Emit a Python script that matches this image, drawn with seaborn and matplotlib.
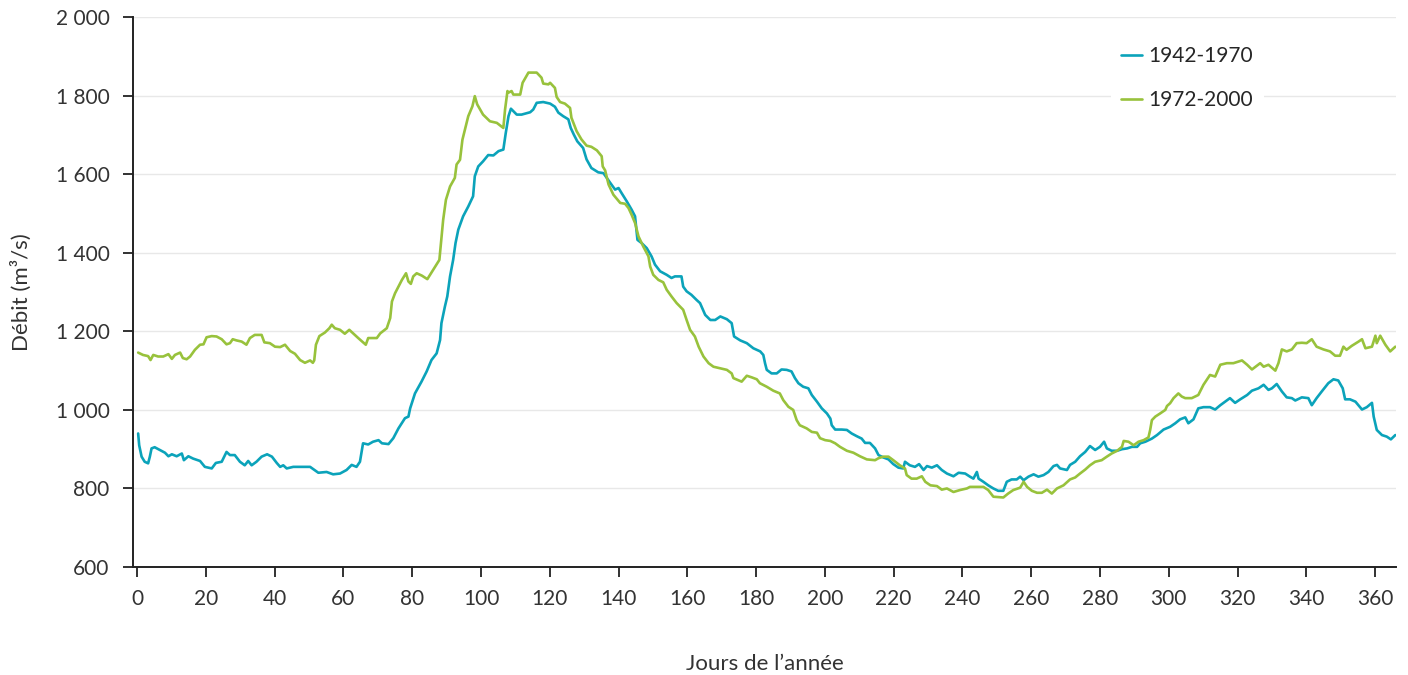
import numpy as np
import pandas as pd
import matplotlib
matplotlib.use('Agg')
import matplotlib.pyplot as plt
import seaborn as sns
from matplotlib.ticker import FuncFormatter, MultipleLocator

# Débit journalier moyen, deux périodes
periods = ['1942-1970', '1972-2000']
colors = ['#0ba3ba', '#98c23c']

days_1942 = [
    0.3, 0.6, 1.3, 2.2, 3.2, 3.7, 4.2, 5.1, 6.6, 8.1, 9.1, 10.1, 11.5, 13.0, 13.6, 14.9, 16.3, 18.3, 19.7, 21.7,
    22.9, 24.6, 26.0, 27.0, 28.4, 29.9, 31.3, 32.3, 33.3, 34.7, 36.2, 37.8, 39.2, 40.6, 41.6, 42.5, 43.5, 45.4,
    48.3, 50.3, 52.7, 55.1, 57.0, 59.0, 60.9,
    62.4, 63.8, 64.8, 65.7, 67.2, 68.6, 70.2, 71.2, 73.1, 74.5, 76.0, 77.9, 78.9, 79.4, 80.8, 82.7, 84.2, 85.6,
    87.1, 88.1, 88.5, 89.5, 90.2, 91.0, 91.9, 92.6, 93.4, 94.8, 96.3, 97.7, 98.2, 99.2, 100.6, 102.1, 103.6,
    105.1, 106.5, 107.2, 108.0, 108.7, 110.4, 111.8, 114.3, 115.2, 116.2, 118.1, 120.1, 121.5,
    122.5, 123.9, 125.4, 126.1, 127.0, 128.0, 129.7, 130.7, 132.1, 134.1, 135.6, 137.6, 139.0, 140.0, 140.9,
    142.4, 143.8, 144.8, 145.5, 146.7, 148.2, 149.6, 150.6, 152.1, 154.0, 155.4, 156.4, 158.3, 158.8, 159.8,
    161.2, 162.7, 163.7, 165.2, 166.7, 168.1, 169.6, 171.5, 172.9, 173.6, 175.4, 177.3, 179.2, 181.2, 182.1,
    182.6,
    183.1, 184.5, 186.0, 187.4, 188.9, 190.3, 191.3, 192.3, 193.7, 195.2, 196.2, 197.7, 199.1, 200.6, 201.6,
    202.0, 203.0, 204.9, 206.4, 207.8, 209.3, 210.7, 211.7, 213.1, 214.6, 215.6, 217.0, 218.5, 219.9, 221.4,
    222.8, 223.3, 224.7, 226.2, 227.4, 228.7, 229.7, 231.1, 232.6, 234.0, 235.5, 237.4, 238.9, 240.8, 242.2,
    243.2, 244.2, 244.7, 246.1, 247.5, 249.0, 250.4, 251.9, 252.9, 254.3, 255.8, 256.8, 257.8, 259.2, 260.7,
    262.1, 263.6, 265.0, 266.5, 267.5, 268.4, 270.4, 271.3, 272.8, 274.2, 275.7, 277.1, 278.6, 280.0, 281.2,
    282.0, 283.4, 285.0, 286.4, 287.9, 289.3, 290.8, 291.7, 293.2, 295.1, 296.6, 298.5, 300.4, 301.9, 303.3,
    304.8,
    305.7, 307.2, 308.6, 310.1, 312.0, 313.5, 315.0, 316.4, 317.8, 319.3, 320.8, 322.8, 324.2, 326.1, 327.6,
    329.0, 330.0, 331.4, 332.9, 334.3, 335.8, 336.8, 338.7, 340.6, 341.6, 343.0, 344.5, 346.4, 347.9, 349.3,
    350.6, 351.3, 352.7, 354.3, 356.2, 357.6, 359.1, 359.6, 360.5, 362.0, 363.4, 364.6, 365.9,
]
flow_1942 = [
    940, 910, 881, 868, 864, 881, 902, 905, 898, 891, 882, 887, 882, 889, 872, 882, 876, 870, 855, 851,
    865, 868, 893, 885, 885, 868, 859, 870, 859, 868, 881, 887, 881, 865, 855, 859, 851, 855,
    855, 855, 840, 842, 836, 838, 847,
    860, 855, 868, 915, 912, 919, 923, 915, 913, 928, 953, 979, 983, 1004, 1042, 1072, 1098, 1127,
    1144, 1178, 1221, 1263, 1289, 1340, 1382, 1425, 1459, 1493, 1518, 1544, 1595, 1620, 1633, 1649, 1648,
    1659, 1663, 1705, 1748, 1767, 1752, 1752, 1758, 1765, 1782, 1784, 1780, 1772,
    1757, 1748, 1740, 1718, 1701, 1684, 1667, 1638, 1616, 1605, 1603, 1578, 1561, 1565, 1552,
    1531, 1510, 1493, 1433, 1425, 1412, 1391, 1370, 1353, 1344, 1336, 1340, 1340, 1314, 1302,
    1293, 1280, 1272, 1242, 1229, 1229, 1238, 1231, 1221, 1187, 1177, 1170, 1157, 1149, 1140,
    1119,
    1102, 1093, 1093, 1103, 1102, 1098, 1081, 1068, 1059, 1055, 1038, 1021, 1004, 991, 978,
    961, 950, 950, 949, 940, 933, 927, 916, 916, 902, 885, 879, 874, 862, 853,
    851, 868, 859, 855, 862, 847, 857, 853, 859, 847, 838, 831, 840, 838, 830,
    825, 842, 825, 817, 808, 800, 794, 794, 817, 823, 823, 830, 821, 830, 836,
    830, 834, 842, 857, 860, 851, 847, 860, 868, 882, 893, 908, 898, 906, 919,
    902, 896, 896, 900, 902, 906, 906, 915, 919, 927, 936, 950, 957, 966, 976,
    981,
    966, 976, 1004, 1007, 1007, 1001, 1012, 1021, 1030, 1018, 1027, 1038, 1049, 1055, 1064,
    1051, 1055, 1066, 1047, 1032, 1030, 1024, 1032, 1030, 1012, 1030, 1047, 1068, 1078, 1075,
    1055, 1027, 1027, 1021, 1001, 1007, 1018, 983, 949, 936, 932, 925, 936,
]

days_1972 = [
    0.3, 1.7, 3.2, 3.9, 4.7, 6.1, 7.6, 9.1, 10.1, 11.0, 12.5, 13.3, 14.4, 15.4, 16.8, 18.3, 19.3, 20.2, 21.7,
    23.1, 24.6, 26.0, 27.0, 27.8, 28.9, 30.4, 31.8, 32.8, 34.2, 36.2, 37.0, 38.6, 40.1, 41.6, 43.0, 44.5,
    45.9, 47.4, 48.8, 50.3, 51.1, 51.5, 52.0, 53.0, 54.6, 55.9, 56.6, 57.5, 59.0,
    60.4, 61.7, 62.8, 64.3, 65.7, 66.5, 67.2, 69.7, 70.7, 72.6, 73.6, 74.1, 75.0, 76.0, 77.0, 78.2, 78.9,
    79.6, 80.3, 81.3, 82.8, 84.4, 86.1, 87.9, 88.4, 89.0, 89.8, 91.0, 92.4, 92.9, 93.9, 94.6, 96.3, 97.5,
    98.2, 98.9, 100.6, 102.6, 104.6, 106.5, 107.0, 107.7, 108.0, 108.9, 109.4, 111.4, 112.1, 113.8, 116.2,
    117.6, 118.1, 119.6, 120.1, 121.5,
    122.0, 123.0, 124.4, 125.9, 126.3, 127.8, 129.2, 130.7, 132.1, 133.7, 135.1, 135.4, 136.1, 137.1, 138.5,
    140.5, 141.9, 142.9, 143.8, 144.8, 145.8, 147.2, 148.7, 149.2, 150.1, 151.6, 153.0, 154.0, 155.4, 156.9,
    158.8, 159.8, 160.8, 162.2, 163.3, 164.7, 166.2, 167.6, 169.5, 171.5, 172.9, 173.4, 175.8, 177.3, 178.7,
    180.2, 181.1,
    183.1, 185.0, 186.9, 187.9, 189.4, 190.8, 191.8, 192.7, 194.7, 196.2, 197.7, 198.6, 200.1, 201.6, 203.0,
    204.4, 206.4, 208.3, 210.2, 212.2, 214.6, 215.6, 217.0, 218.5, 219.9, 221.8, 223.3, 223.8, 225.2, 226.7,
    228.2, 229.2, 230.7, 232.6, 234.0, 235.5, 237.4, 239.3, 241.3,
    242.2, 244.2, 246.1, 247.5, 249.0, 251.9, 253.3, 254.8, 256.8, 257.8, 258.8, 260.2, 261.7, 263.1, 264.6,
    266.0, 267.5, 269.4, 271.3, 272.8, 274.2, 275.7, 277.1, 278.6, 280.5, 282.0, 283.4, 285.0, 286.4, 286.9,
    288.3, 289.8, 291.2, 292.7, 294.1, 294.6, 295.1, 296.1, 297.5, 299.0, 299.5, 300.4, 301.4, 302.8,
    303.8, 304.8, 306.7, 308.6, 310.1, 312.0, 313.5, 315.0, 316.9, 318.8, 321.3, 322.8, 324.2, 326.6, 327.6,
    329.0, 331.0, 331.9, 332.9, 334.3, 335.8, 337.2, 338.7, 340.1, 341.6, 343.0, 345.0, 346.9, 348.4, 349.8,
    350.8, 351.7, 353.2, 355.2, 356.2, 357.2, 359.1, 360.1, 360.5, 361.5, 363.0, 364.4, 365.9,
]
flow_1972 = [
    1146, 1140, 1137, 1127, 1140, 1136, 1136, 1142, 1130, 1140, 1146, 1132, 1129, 1136, 1153, 1166, 1167, 1185, 1188,
    1187, 1180, 1167, 1170, 1180, 1177, 1174, 1166, 1183, 1191, 1191, 1172, 1170, 1161, 1160, 1166, 1150,
    1143, 1127, 1120, 1126, 1120, 1126, 1166, 1188, 1197, 1208, 1217, 1208, 1204,
    1194, 1204, 1195, 1183, 1172, 1166, 1183, 1183, 1195, 1208, 1234, 1276, 1297, 1314, 1331, 1348, 1327,
    1321, 1340, 1348, 1342, 1333, 1357, 1382, 1429, 1484, 1535, 1569, 1591, 1625, 1637, 1688, 1748, 1773,
    1799, 1778, 1752, 1735, 1731, 1718, 1765, 1812, 1808, 1812, 1803, 1803, 1833, 1859, 1859,
    1846, 1831, 1829, 1833, 1820,
    1797, 1784, 1780, 1769, 1744, 1710, 1689, 1673, 1670, 1661, 1646, 1620, 1610, 1574, 1548,
    1527, 1525, 1514, 1497, 1476, 1442, 1416, 1391, 1365, 1344, 1331, 1325, 1306, 1289, 1272,
    1255, 1229, 1204, 1187, 1161, 1136, 1119, 1110, 1106, 1102, 1093, 1081, 1072, 1087, 1083,
    1078, 1068,
    1059, 1049, 1042, 1025, 1008, 1000, 974, 961, 953, 944, 942, 928, 923, 921, 915,
    906, 896, 891, 882, 874, 872, 877, 881, 881, 872, 859, 851, 834, 825, 825,
    831, 817, 808, 806, 797, 800, 791, 796, 800,
    804, 804, 804, 796, 779, 777, 787, 796, 802, 817, 804, 794, 789, 789, 797,
    787, 800, 808, 823, 828, 838, 848, 859, 868, 872, 881, 889, 896, 906, 921,
    919, 910, 919, 923, 930, 949, 974, 983, 991, 1000, 1010, 1017, 1030, 1042,
    1034, 1030, 1030, 1038, 1064, 1089, 1085, 1115, 1119, 1119, 1126, 1115, 1103, 1119, 1110,
    1115, 1100, 1119, 1154, 1149, 1154, 1170, 1171, 1170, 1180, 1161, 1154, 1149, 1138, 1138,
    1161, 1153, 1163, 1174, 1180, 1157, 1161, 1189, 1170, 1189, 1166, 1149, 1161,
]

df = pd.concat([
    pd.DataFrame({'jour': days_1942, 'debit': flow_1942, 'periode': periods[0]}),
    pd.DataFrame({'jour': days_1972, 'debit': flow_1972, 'periode': periods[1]}),
], ignore_index=True)

sns.set_theme(style='white')
plt.rcParams['font.family'] = ['Lato', 'DejaVu Sans']

fig, ax = plt.subplots(figsize=(14.08, 6.75), dpi=100)
fig.subplots_adjust(left=0.0947, right=0.9915, top=0.9745, bottom=0.16)

sns.lineplot(data=df, x='jour', y='debit', hue='periode', hue_order=periods,
             palette=colors, estimator=None, sort=False, linewidth=1.9, ax=ax)

ax.set_xlim(-1.1, 366.1)
ax.set_ylim(600, 2000)
ax.set_xticks(np.arange(0, 361, 20))
ax.yaxis.set_major_locator(MultipleLocator(200))
ax.yaxis.set_major_formatter(FuncFormatter(lambda v, _: f"{int(v):,}".replace(",", " ")))

ax.yaxis.grid(True, color='#e8e8e8', linewidth=1)
ax.xaxis.grid(False)
ax.set_axisbelow(True)

for side in ['top', 'right']:
    ax.spines[side].set_visible(False)
for side in ['left', 'bottom']:
    ax.spines[side].set_color('#222222')
    ax.spines[side].set_linewidth(1.4)

ax.tick_params(axis='both', bottom=True, left=True, direction='out', length=7, width=1.3,
               color='#222222', labelsize=15, labelcolor='#333333')
ax.tick_params(axis='x', pad=9)
ax.tick_params(axis='y', pad=10)

ax.set_xlabel('Jours de l’année', fontsize=16, color='#333333', labelpad=32)
ax.set_ylabel('Débit (m³/s)', fontsize=16, color='#333333', labelpad=17)

handles, labels = ax.get_legend_handles_labels()
ax.legend(handles, labels, loc='upper left', bbox_to_anchor=(0.766, 0.985), frameon=True,
          facecolor='white', edgecolor='none', framealpha=1, fontsize=15,
          handlelength=1.0, handletextpad=0.3, labelspacing=1.15, borderpad=0.5)

fig.savefig('out.png', dpi=100)
